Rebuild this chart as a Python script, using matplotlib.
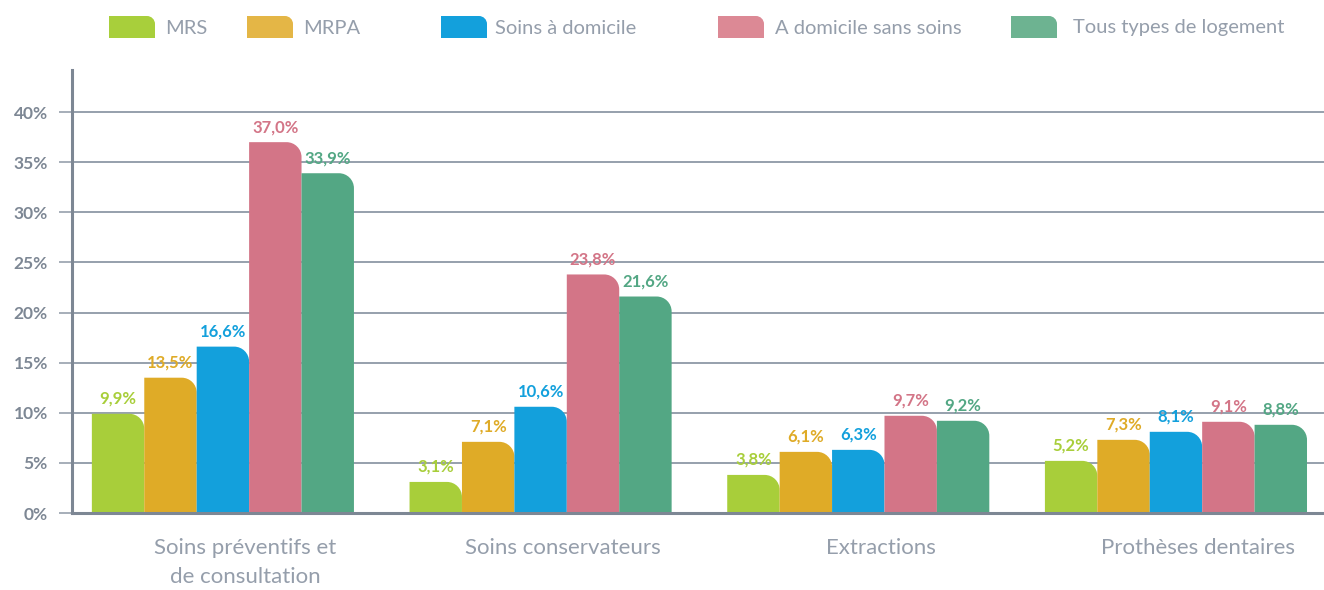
import matplotlib
matplotlib.use('Agg')
import matplotlib.pyplot as plt
from matplotlib.path import Path
from matplotlib.patches import PathPatch
import numpy as np

categories = ["Soins préventifs et\nde consultation", "Soins conservateurs",
              "Extractions", "Prothèses dentaires"]
series_names = ["MRS", "MRPA", "Soins à domicile", "A domicile sans soins",
                "Tous types de logement"]
mrs = [9.9, 3.1, 3.8, 5.2]
mrpa = [13.5, 7.1, 6.1, 7.3]
soins_domicile = [16.6, 10.6, 6.3, 8.1]
domicile_sans_soins = [37.0, 23.8, 9.7, 9.1]
tous_types = [33.9, 21.6, 9.2, 8.8]
y_ticks = [0, 5, 10, 15, 20, 25, 30, 35, 40]
y_tick_labels = ["0%", "5%", "10%", "15%", "20%", "25%", "30%", "35%", "40%"]

series = [mrs, mrpa, soins_domicile, domicile_sans_soins, tous_types]
bar_colors = ["#a8ce3a", "#dfab27", "#13a0dc", "#d37587", "#53a784"]
legend_colors = ["#a8cf3b", "#e4b646", "#13a0dc", "#dc8995", "#6db391"]

TXT = "#959eab"
AX = "#7d8794"
GRID = "#8e98a6"

plt.rcParams['font.family'] = ['Lato', 'DejaVu Sans']

W, H = 1324, 590
fig = plt.figure(figsize=(W / 100, H / 100), dpi=100)
ax = fig.add_axes([72 / W, 1 - 513 / H, 1 - 72 / W, (513 - 70) / H])

x = np.arange(len(categories))
bw = 0.165
ax.set_xlim(-0.475, 3.466)
ax.set_ylim(0, 44.2)

def rounded_path(x0, y0, w, h, rx, ry):
    rx = min(rx, w)
    ry = min(ry, h)
    k = 0.5523
    verts = [(x0, y0), (x0 + w, y0), (x0 + w, y0 + h - ry),
             (x0 + w, y0 + h - ry + k * ry), (x0 + w - rx + k * rx, y0 + h),
             (x0 + w - rx, y0 + h), (x0, y0 + h), (x0, y0)]
    codes = [Path.MOVETO, Path.LINETO, Path.LINETO, Path.CURVE4, Path.CURVE4,
             Path.CURVE4, Path.LINETO, Path.CLOSEPOLY]
    return Path(verts, codes)

# pixel-to-data scale
pxx = (W - 72) / (3.466 + 0.475)
pxy = (513 - 70) / 44.2
r_px = 15

for i, (vals, col) in enumerate(zip(series, bar_colors)):
    offs = (i - 2) * bw
    bars = ax.bar(x + offs, vals, width=bw, color=col, zorder=3)
    for rect, v in zip(bars, vals):
        rect.set_visible(False)
        p = rounded_path(rect.get_x(), rect.get_y(), rect.get_width(),
                         rect.get_height(), r_px / pxx, r_px / pxy)
        ax.add_patch(PathPatch(p, facecolor=col, edgecolor='none', zorder=3))
        ax.annotate(f"{v:.1f}%".replace('.', ','),
                    (rect.get_x() + rect.get_width() / 2, v),
                    xytext=(0, 5), textcoords='offset points',
                    ha='center', va='bottom', color=col, fontsize=12,
                    fontweight='bold', zorder=4)

ax.set_yticks(y_ticks)
ax.set_yticklabels(y_tick_labels)
ax.yaxis.grid(True, color=GRID, linewidth=1.3, zorder=0)
ax.set_axisbelow(True)
ax.tick_params(axis='y', length=9.4, width=1.1, color=GRID, pad=8,
               labelsize=12.5, labelcolor=AX)
for lab in ax.get_yticklabels():
    lab.set_fontweight('bold')

ax.set_xticks(x + 0.07)
ax.set_xticklabels(categories, fontsize=16, color=TXT, linespacing=1.55,
                   fontweight='normal')
ax.tick_params(axis='x', length=0, pad=18)

for s in ['top', 'right']:
    ax.spines[s].set_visible(False)
for s in ['left', 'bottom']:
    ax.spines[s].set_color(AX)
    ax.spines[s].set_linewidth(2.2)
    ax.spines[s].set_zorder(5)

# legend
patch_x = [109, 247, 441, 718, 1011]
text_x = [165, 303, 495, 775, 1073]
for name, col, px, tx in zip(series_names, legend_colors, patch_x, text_x):
    p = rounded_path(px / W, 1 - 38 / H, 46 / W, 22 / H, 8 / W, 8 / H)
    fig.add_artist(PathPatch(p, facecolor=col, edgecolor='none',
                             transform=fig.transFigure))
    fig.text(tx / W, 1 - 28 / H, name, ha='left', va='center', fontsize=14.5,
             color=TXT, fontweight='normal')

fig.savefig("out.png", dpi=100)
